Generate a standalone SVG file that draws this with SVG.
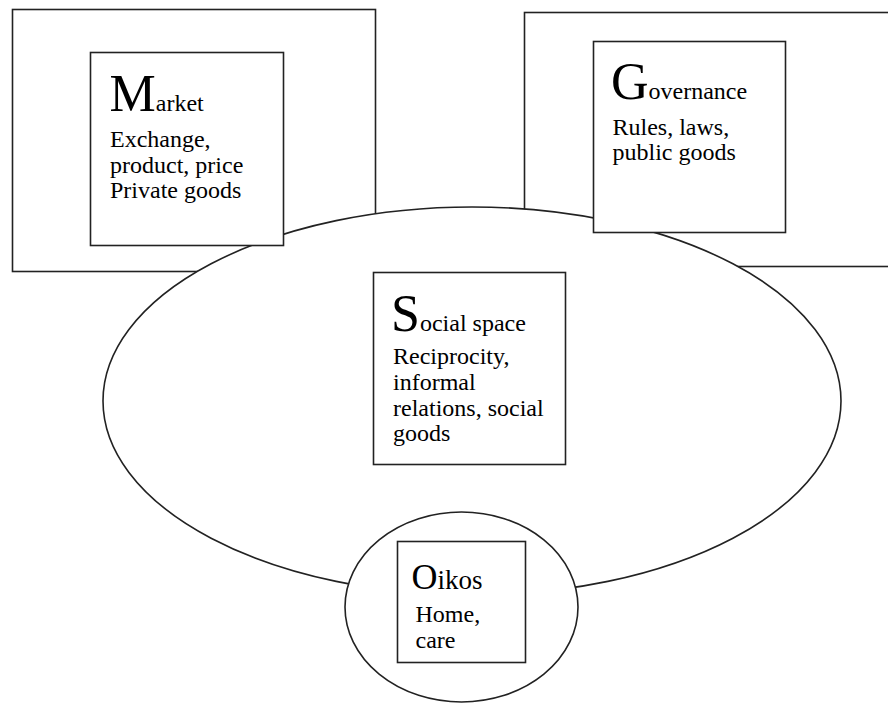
<svg xmlns="http://www.w3.org/2000/svg" width="888" height="704" viewBox="0 0 888 704">
  <style>
    .frame { fill: #ffffff; stroke: #222222; stroke-width: 1.6; }
    .t { font-family: "Liberation Serif", "Times New Roman", serif; font-size: 24px; fill: #000000; }
    .big { font-size: 52px; }
  </style>
  <rect x="0" y="0" width="888" height="704" fill="#ffffff"/>

  <g id="market-sphere">
    <rect class="frame" x="12.5" y="9.5" width="363" height="262"/>
  </g>
  <g id="governance-sphere">
    <rect class="frame" x="524.5" y="12.5" width="380" height="254"/>
  </g>
  <g id="social-sphere">
    <ellipse class="frame" cx="472" cy="401" rx="369" ry="194"/>
  </g>
  <g id="oikos-sphere">
    <ellipse class="frame" cx="461.5" cy="607" rx="116.5" ry="95"/>
  </g>

  <g id="market">
    <rect class="frame" x="90.5" y="52.5" width="193" height="193"/>
    <text class="t" x="109.5" y="110.5"><tspan class="big">M</tspan>arket</text>
    <text class="t" x="110" y="147">Exchange,</text>
    <text class="t" x="110" y="172.5">product, price</text>
    <text class="t" x="110" y="198">Private goods</text>
  </g>

  <g id="governance">
    <rect class="frame" x="593.5" y="41.5" width="192" height="191"/>
    <text class="t" x="611" y="99"><tspan class="big">G</tspan>overnance</text>
    <text class="t" x="612.5" y="135">Rules, laws,</text>
    <text class="t" x="612.5" y="160">public goods</text>
  </g>

  <g id="social">
    <rect class="frame" x="373.5" y="272.5" width="192" height="192"/>
    <text class="t" x="391" y="331"><tspan class="big">S</tspan>ocial space</text>
    <text class="t" x="393" y="364">Reciprocity,</text>
    <text class="t" x="393" y="390">informal</text>
    <text class="t" x="393" y="416">relations, social</text>
    <text class="t" x="393" y="441">goods</text>
  </g>

  <g id="oikos">
    <rect class="frame" x="397.5" y="541.5" width="128" height="121"/>
    <text class="t" x="411.5" y="589"><tspan font-size="36">O</tspan><tspan font-size="27">ikos</tspan></text>
    <text class="t" x="415.5" y="622" font-size="23">Home,</text>
    <text class="t" x="415.5" y="648" font-size="23">care</text>
  </g>
</svg>
